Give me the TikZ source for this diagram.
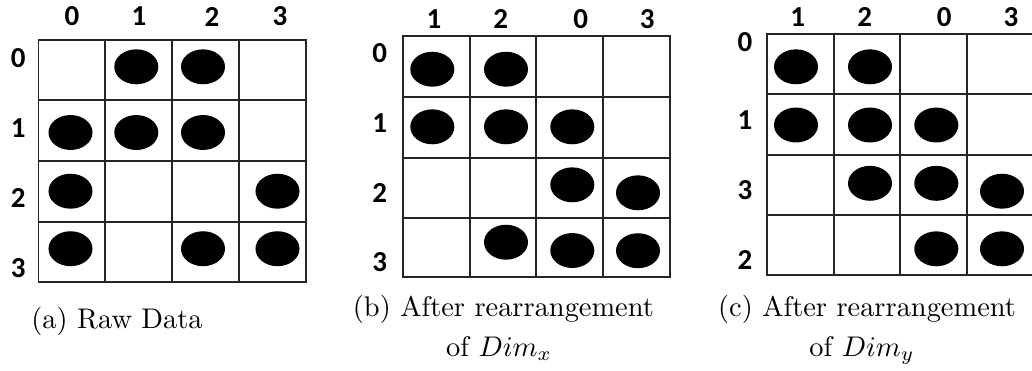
\documentclass[tikz,border=0pt]{standalone}
\usepackage{fontspec}
\newfontfamily\lblfont{Carlito}
\begin{document}
\begin{tikzpicture}[x=0.352pt,y=-0.352pt,
  gridline/.style={draw=black!85,line width=0.65pt},
  dot/.style={fill=black},
  lbl/.style={font=\lblfont\bfseries\fontsize{10.2}{12}\selectfont,inner sep=0pt,anchor=center},
  captxt/.style={font=\fontsize{10}{12}\selectfont,inner sep=0pt,anchor=base}]
\useasboundingbox (0,0) rectangle (1032,370);
\clip (0,0) rectangle (1032,370);
\def\rx{7.75pt}\def\ry{6.15pt}
% ---------- (a) Raw Data ----------
\draw[gridline] (38.5,40) rectangle (306,281.7);
\foreach \x in {105.3,172.3,239} \draw[gridline] (\x,40) -- (\x,281.7);
\foreach \y in {100,161,221.7} \draw[gridline] (38.5,\y) -- (306,\y);
\node[lbl] (ac0) at (72,16.5) {0};
\node[lbl] (ac1) at (139,16.5) {1};
\node[lbl] (ac2) at (212,16.5) {2};
\node[lbl] (ac3) at (280,16.5) {3};
\node[lbl] (ar0) at (18.3,58.3) {0};
\node[lbl] (ar1) at (18.3,128) {1};
\node[lbl] (ar2) at (18.3,198) {2};
\node[lbl] (ar3) at (18.3,268) {3};
\foreach \p in {(136.3,66.8),(203,66.8),(70.5,132.5),(136.3,132.5),(203,132.5),
  (70.5,191.2),(277.5,191.2),(70.5,248.7),(203,248.7),(277.5,248.7)}
  \fill[dot] \p ellipse [x radius=\rx, y radius=\ry];
\node[captxt] (capa) at (117,328.3) {(a) Raw Data};
% ---------- (b) ----------
\draw[gridline] (403.3,36) rectangle (669.7,277.3);
\foreach \x in {469.7,536.3,603} \draw[gridline] (\x,36) -- (\x,277.3);
\foreach \y in {96.7,157.7,217.7} \draw[gridline] (403.3,\y) -- (669.7,\y);
\node[lbl] (bc1) at (434,19) {1};
\node[lbl] (bc2) at (500.7,19) {2};
\node[lbl] (bc0) at (580.7,19) {0};
\node[lbl] (bc3) at (647.3,19) {3};
\node[lbl] (br0) at (379.7,53.3) {0};
\node[lbl] (br1) at (379.7,123.3) {1};
\node[lbl] (br2) at (379.7,193.3) {2};
\node[lbl] (br3) at (379.7,261.7) {3};
\foreach \p in {(432.3,69.2),(506,69.2),(432.3,126.8),(506,126.8),(572.3,126.8),
  (572.3,184.8),(638,192.8),(506,242.2),(572.3,250.5),(638,250.7)}
  \fill[dot] \p ellipse [x radius=\rx, y radius=\ry];
\node[captxt] (capb1) at (503.4,316) {(b) After rearrangement};
\node[captxt] (capb2) at (499,356.5) {of $Dim_x$};
% ---------- (c) ----------
\draw[gridline] (767,33.7) rectangle (1033.3,275.3);
\foreach \x in {833.7,900.3,966.7} \draw[gridline] (\x,33.7) -- (\x,275.3);
\foreach \y in {94.3,155,215} \draw[gridline] (767,\y) -- (1033.3,\y);
\node[lbl] (cc1) at (797.7,17.2) {1};
\node[lbl] (cc2) at (864.7,17.2) {2};
\node[lbl] (cc0) at (944.3,17.2) {0};
\node[lbl] (cc3) at (1011,17.2) {3};
\node[lbl] (cr0) at (745,41.7) {0};
\node[lbl] (cr1) at (745,120) {1};
\node[lbl] (cr3) at (745,190) {3};
\node[lbl] (cr2) at (745,260) {2};
\foreach \p in {(796,66.8),(870,66.8),(796,125),(870,125),(936.3,125),
  (870,183.3),(936.3,183.3),(1002,191.2),(936.3,248.8),(1002,248.8)}
  \fill[dot] \p ellipse [x radius=\rx, y radius=\ry];
\node[captxt] (capc1) at (867,316) {(c) After rearrangement};
\node[captxt] (capc2) at (862,356.5) {of $Dim_y$};
\end{tikzpicture}
\end{document}
